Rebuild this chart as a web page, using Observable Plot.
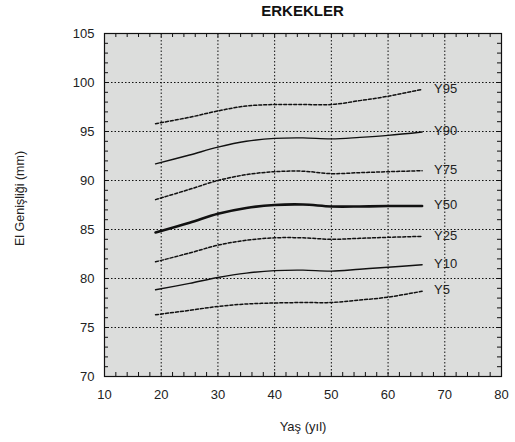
<!DOCTYPE html>
<html>
<head>
<meta charset="utf-8">
<script src="https://cdn.jsdelivr.net/npm/d3@7"></script>
<script src="https://cdn.jsdelivr.net/npm/@observablehq/plot@0.6"></script>
<style>
  body { margin: 0; background: #fff; font-family: "Liberation Sans", Arial, sans-serif; }
  #title { width: 515px; box-sizing: border-box; padding-left: 90px; height: 25px; line-height: 21px;
           text-align: center; font-weight: bold; font-size: 15px; color: #111; }
</style>
</head>
<body>
<div id="title">ERKEKLER</div>
<div id="chart"></div>
<script>
const ages = [19, 25, 30, 35, 40, 45, 50, 55, 60, 66];
const seriesNames = ["Y95", "Y90", "Y75", "Y50", "Y25", "Y10", "Y5"];
const Y95 = [95.8, 96.45, 97.1, 97.6, 97.75, 97.75, 97.75, 98.15, 98.6, 99.3];
const Y90 = [91.7, 92.6, 93.4, 94.0, 94.3, 94.35, 94.25, 94.4, 94.6, 94.95];
const Y75 = [88.05, 89.1, 90.0, 90.6, 90.9, 90.95, 90.7, 90.8, 90.9, 91.0];
const Y50 = [84.7, 85.7, 86.6, 87.2, 87.5, 87.55, 87.35, 87.35, 87.4, 87.4];
const Y25 = [81.7, 82.6, 83.4, 83.9, 84.15, 84.15, 84.0, 84.1, 84.2, 84.3];
const Y10 = [78.85, 79.5, 80.1, 80.55, 80.8, 80.85, 80.75, 80.95, 81.15, 81.4];
const Y5  = [76.3, 76.75, 77.15, 77.4, 77.5, 77.55, 77.55, 77.8, 78.1, 78.7];
const xTicks = [10, 20, 30, 40, 50, 60, 70, 80];
const yTicks = [70, 75, 80, 85, 90, 95, 100, 105];
const xMinor = d3.range(10, 80.1, 2);
const yMinor = d3.range(70, 105.1, 1);
const xLabel = "Yaş (yıl)";
const yLabel = "El Genişliği (mm)";

const valuesBySeries = {Y95, Y90, Y75, Y50, Y25, Y10, Y5};
const rows = seriesNames.flatMap(s => ages.map((a, i) => ({series: s, age: a, value: valuesBySeries[s][i]})));
const lastPoints = seriesNames.map(s => ({series: s, age: ages[ages.length - 1], value: valuesBySeries[s][ages.length - 1]}));

const dotted = new Set(["Y95", "Y75", "Y25", "Y5"]);
const lineStyle = s => dotted.has(s)
  ? {strokeDasharray: "3,2", strokeWidth: 1.5}
  : {strokeWidth: s === "Y50" ? 2.6 : 1.4};

const W = 515, H = 417;
const mT = 8, mB = 66, mL = 104, mR = 14;
const innerH = H - mT - mB, innerW = W - mL - mR;
const tick = 4;

const chart = Plot.plot({
  width: W, height: H,
  marginTop: mT, marginBottom: mB, marginLeft: mL, marginRight: mR,
  style: {fontFamily: "Liberation Sans, Arial, sans-serif", fontSize: "13px", color: "#222", background: "#fff"},
  x: {domain: [10, 80]},
  y: {domain: [70, 105]},
  marks: [
    Plot.frame({fill: "#dcdddc", stroke: null}),
    Plot.gridX(xTicks, {stroke: "#111", strokeOpacity: 1, strokeDasharray: "1.5,2", strokeWidth: 1}),
    Plot.gridY(yTicks, {stroke: "#111", strokeOpacity: 1, strokeDasharray: "1.5,2", strokeWidth: 1}),
    Plot.tickX(xMinor, {x: d => d, insetTop: innerH - tick, stroke: "#111"}),
    Plot.tickX(xMinor, {x: d => d, insetBottom: innerH - tick, stroke: "#111"}),
    Plot.tickY(yMinor, {y: d => d, insetRight: innerW - tick, stroke: "#111"}),
    Plot.tickY(yMinor, {y: d => d, insetLeft: innerW - tick, stroke: "#111"}),
    ...seriesNames.map(s => Plot.line(rows.filter(r => r.series === s), {
      x: "age", y: "value", stroke: "#111", curve: "catmull-rom", ...lineStyle(s)
    })),
    Plot.text(lastPoints, {x: "age", y: "value", text: "series", dx: 12, dy: -1, textAnchor: "start", fontSize: 13, fill: "#222"}),
    Plot.axisX(xTicks, {tickSize: 0, tickPadding: 13, fontSize: 13, label: null}),
    Plot.axisY(yTicks, {tickSize: 0, tickPadding: 10, fontSize: 13, label: null}),
    Plot.text([xLabel], {frameAnchor: "bottom", dy: 54, fontSize: 13, fill: "#222"}),
    Plot.frame({stroke: "#111", strokeWidth: 1.2})
  ]
});
d3.select(chart).append("text")
  .attr("transform", `translate(24, ${mT + innerH / 2 - 6}) rotate(-90)`)
  .attr("text-anchor", "middle")
  .attr("fill", "#222")
  .attr("font-size", 12.5)
  .attr("font-family", "Liberation Sans, Arial, sans-serif")
  .text(yLabel);
document.getElementById("chart").appendChild(chart);
</script>
</body>
</html>
